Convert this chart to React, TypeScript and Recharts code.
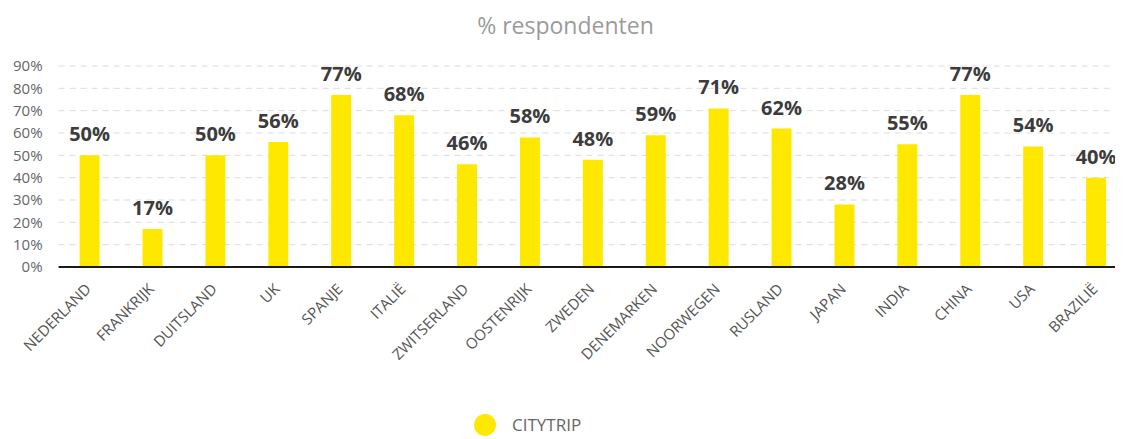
import { Bar, BarChart, CartesianGrid, LabelList, XAxis, YAxis } from "recharts";

const countries = [
  "NEDERLAND",
  "FRANKRIJK",
  "DUITSLAND",
  "UK",
  "SPANJE",
  "ITALIË",
  "ZWITSERLAND",
  "OOSTENRIJK",
  "ZWEDEN",
  "DENEMARKEN",
  "NOORWEGEN",
  "RUSLAND",
  "JAPAN",
  "INDIA",
  "CHINA",
  "USA",
  "BRAZILIË",
];

const citytrip = [50, 17, 50, 56, 77, 68, 46, 58, 48, 59, 71, 62, 28, 55, 77, 54, 40];

const yTicks = [0, 10, 20, 30, 40, 50, 60, 70, 80, 90];

const data = countries.map((country, i) => ({ country, citytrip: citytrip[i] }));

const FONT = "'Open Sans', sans-serif";
const YELLOW = "#FFE800";

// rotated country label, anchored at its end just below the axis
function CountryTick(props: any) {
  const { x, y, payload } = props;
  return (
    <g transform={`translate(${x + 2},${y + 15}) rotate(-45)`}>
      <text
        x={0}
        y={0}
        textAnchor="end"
        fill="#555"
        fontSize={15}
        fontFamily={FONT}
      >
        {payload.value}
      </text>
    </g>
  );
}

export default function App() {
  return (
    <div
      style={{
        position: "relative",
        width: 1115,
        height: 431,
        overflow: "hidden",
        fontFamily: FONT,
      }}
    >
      <div
        style={{
          position: "absolute",
          top: 3,
          left: 0,
          width: 1115,
          textAlign: "center",
          fontSize: 23,
          lineHeight: "28px",
          color: "#9b9b9b",
        }}
      >
        % respondenten
      </div>
      <BarChart
        width={1122}
        height={431}
        data={data}
        margin={{ top: 58, right: 2, bottom: 0, left: 0 }}
        barSize={20}
      >
        <CartesianGrid
          vertical={false}
          stroke="#dcdcdc"
          strokeDasharray="6 5"
        />
        <XAxis
          dataKey="country"
          interval={0}
          height={172}
          axisLine={{ stroke: "#1a1a1a", strokeWidth: 2 }}
          tickLine={false}
          tick={<CountryTick />}
        />
        <YAxis
          domain={[0, 90]}
          ticks={yTicks}
          interval={0}
          width={50.6}
          axisLine={false}
          tickLine={false}
          tickMargin={10}
          tickFormatter={(v) => `${v}%`}
          tick={{ fill: "#666", fontSize: 15, fontFamily: FONT }}
        />
        <Bar dataKey="citytrip" fill={YELLOW} isAnimationActive={false}>
          <LabelList
            dataKey="citytrip"
            position="top"
            offset={14}
            formatter={(v: number) => `${v}%`}
            style={{
              fill: "#3c3c3c",
              fontSize: 20,
              fontWeight: 700,
              fontFamily: FONT,
            }}
          />
        </Bar>
      </BarChart>
      <div
        style={{
          position: "absolute",
          left: 466,
          top: 406,
          height: 22,
          display: "flex",
          alignItems: "center",
          gap: 16,
        }}
      >
        <span
          style={{
            display: "inline-block",
            width: 22,
            height: 22,
            borderRadius: "50%",
            background: YELLOW,
          }}
        />
        <span style={{ fontSize: 17, lineHeight: "20px", color: "#666" }}>
          CITYTRIP
        </span>
      </div>
    </div>
  );
}
